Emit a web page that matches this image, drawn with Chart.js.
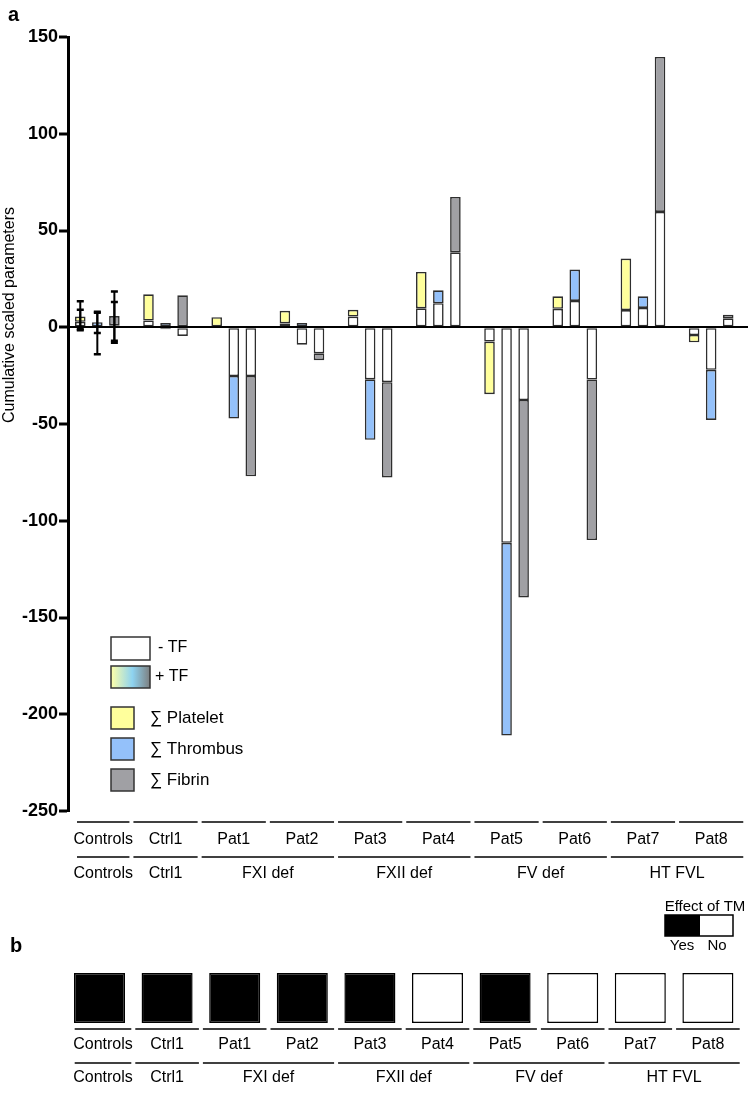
<!DOCTYPE html>
<html>
<head>
<meta charset="utf-8">
<script src="https://cdn.jsdelivr.net/npm/chart.js@4/dist/chart.umd.min.js"></script>
<style>
  html, body { margin: 0; padding: 0; background: #fff; }
  #wrap { position: relative; width: 751px; height: 1119px; }
  #chartA { position: absolute; left: 0; top: 0; }
  #chartB { position: absolute; left: 0; top: 890px; }
</style>
</head>
<body>
<div id="wrap">
  <canvas id="chartA" width="751" height="890"></canvas>
  <canvas id="chartB" width="751" height="229"></canvas>
</div>
<script>
// ---------------------------------------------------------
// Categories (x) and grouping rows
// ---------------------------------------------------------
const patients = ['Controls', 'Ctrl1', 'Pat1', 'Pat2', 'Pat3', 'Pat4', 'Pat5', 'Pat6', 'Pat7', 'Pat8'];
const groupLabels = ['Controls', 'Ctrl1', 'FXI def', 'FXII def', 'FV def', 'HT FVL'];
const groupSizes = [1, 1, 2, 2, 2, 2];

// Cumulative scaled parameters, without TF (white) and with TF (coloured)
const plateletNoTF = [2.8, 3.5, 0, 2, 5.5, 9.8, -7.4, 9.5, 8.9, -4];
const plateletTF   = [5.5, 17, 5.2, 8.5, 9, 28.6, -34.6, 16, 35.5, -7.8];
const thrombusNoTF = [0, -1, -25.2, -9, -26.9, 12.4, -111.4, 13.6, 10, -22];
const thrombusTF   = [2.6, 2.2, -47.2, 2.2, -58.2, 19.1, -211, 29.8, 16, -47.9];
const fibrinNoTF   = [1, -4.5, -25.2, -13.5, -28.4, 38.7, -37.6, -27, 59.6, 4.6];
const fibrinTF     = [5.8, 16.5, -77, -17, -77.6, 67.3, -139.6, -110, 139.7, 6.5];

// error bars of the Controls group [low, high], per parameter
const controlsErrTF   = [[-1, 13.5], [-3, 8], [-7, 18.5]];
const controlsErrNoTF = [[-1.5, 9], [-14, 7.5], [-8, 13]];

// y axis ticks
const yMin = -250, yMax = 150, yStep = 50;

// panel b: effect of TM
const effectOfTM = ['Yes', 'Yes', 'Yes', 'Yes', 'Yes', 'No', 'Yes', 'No', 'No', 'No'];

const COL_PLATELET = '#FFFF9C';
const COL_THROMBUS = '#94C1FA';
const COL_FIBRIN = '#A0A0A4';
const FONT = "'Liberation Sans', Arial, sans-serif";

Chart.defaults.font.family = FONT;
Chart.defaults.color = '#000';

// coloured part sits on top of the white part when both go the same way
function tfSegment(noTF, tf) {
    return tf.map((v, i) => {
        const w = noTF[i];
        if (w !== 0 && Math.sign(w) === Math.sign(v) && Math.abs(v) >= Math.abs(w)) return v - w;
        return v;
    });
}
const pts = arr => arr.map((v, i) => ({ x: i, y: v }));

function barSet(label, values, color, stack) {
    return {
        label, data: pts(values), stack,
        backgroundColor: color,
        borderColor: '#2e2e2e',
        borderWidth: 1.6,
        borderSkipped: false,
        barPercentage: 0.62,
        categoryPercentage: 0.75
    };
}

/**
 * two rows of labels under the bars
 */
const rowsPlugin = {
    id: 'rows',
    afterDraw(chart, args, opts) {
        const ctx = chart.ctx, x = chart.scales.x;
        const step = x.getPixelForValue(1) - x.getPixelForValue(0);
        const left = chart.chartArea.left + opts.inset;
        const hline = (a, b, y) => { ctx.beginPath(); ctx.moveTo(a, y); ctx.lineTo(b, y); ctx.stroke(); };
        ctx.save();
        ctx.strokeStyle = '#000';
        ctx.lineWidth = 1.5;
        ctx.fillStyle = '#000';
        ctx.font = '16px ' + FONT;
        ctx.textAlign = 'center';
        ctx.textBaseline = 'middle';
        patients.forEach((p, i) => {
            const c = x.getPixelForValue(i);
            const a = Math.max(c - step / 2 + 2, left), b = c + step / 2 - 2;
            hline(a, b, opts.line1);
            ctx.fillText(p, (a + b) / 2, opts.text1);
        });
        let start = 0;
        groupLabels.forEach((g, k) => {
            const n = groupSizes[k];
            const a = Math.max(x.getPixelForValue(start) - step / 2 + 2, left);
            const b = x.getPixelForValue(start + n - 1) + step / 2 - 2;
            hline(a, b, opts.line2);
            ctx.fillText(g, (a + b) / 2, opts.text2);
            start += n;
        });
        ctx.restore();
    }
};

/**
 * error bars on the Controls bars, legend, y title and panel letter
 */
const extrasA = {
    id: 'extrasA',
    afterDatasetsDraw(chart) {
        const ctx = chart.ctx, y = chart.scales.y;
        ctx.save();
        ctx.strokeStyle = '#000';
        [controlsErrNoTF, controlsErrTF].forEach(errs => {
            errs.forEach((e, k) => {
                const bx = chart.getDatasetMeta(k).data[0].x;
                const lo = y.getPixelForValue(e[0]), hi = y.getPixelForValue(e[1]);
                ctx.lineWidth = 2;
                ctx.beginPath(); ctx.moveTo(bx, lo); ctx.lineTo(bx, hi); ctx.stroke();
                ctx.lineWidth = 2.5;
                ctx.beginPath();
                ctx.moveTo(bx - 3.5, lo); ctx.lineTo(bx + 3.5, lo);
                ctx.moveTo(bx - 3.5, hi); ctx.lineTo(bx + 3.5, hi);
                ctx.stroke();
            });
        });
        ctx.restore();
    },
    afterDraw(chart) {
        const ctx = chart.ctx;
        ctx.save();
        // panel letter
        ctx.fillStyle = '#000';
        ctx.font = 'bold 20px ' + FONT;
        ctx.textBaseline = 'middle';
        ctx.fillText('a', 8, 15);

        // y axis title
        ctx.save();
        ctx.translate(10, 315);
        ctx.rotate(-Math.PI / 2);
        ctx.textAlign = 'center';
        ctx.font = '16px ' + FONT;
        ctx.fillText('Cumulative scaled parameters', 0, 0);
        ctx.restore();

        // legend
        ctx.strokeStyle = '#333';
        ctx.lineWidth = 1.5;
        ctx.fillStyle = '#fff';
        ctx.fillRect(111, 637, 39, 23);
        ctx.strokeRect(111, 637, 39, 23);
        const g = ctx.createLinearGradient(111, 0, 150, 0);
        g.addColorStop(0, '#FFFFA8');
        g.addColorStop(0.55, '#8ED3F0');
        g.addColorStop(1, '#7D7F80');
        ctx.fillStyle = g;
        ctx.fillRect(111, 666, 39, 22);
        ctx.strokeRect(111, 666, 39, 22);
        ctx.fillStyle = '#000';
        ctx.font = '16px ' + FONT;
        ctx.textAlign = 'left';
        ctx.fillText('- TF', 158, 648);
        ctx.fillText('+ TF', 155, 677);
        [['\u2211 Platelet', COL_PLATELET, 707], ['\u2211 Thrombus', COL_THROMBUS, 738], ['\u2211 Fibrin', COL_FIBRIN, 769]]
            .forEach(([t, c, top]) => {
                ctx.fillStyle = c;
                ctx.fillRect(111, top, 23, 22);
                ctx.strokeRect(111, top, 23, 22);
                ctx.fillStyle = '#000';
                ctx.font = '17px ' + FONT;
                ctx.fillText(t, 150, top + 11);
            });
        ctx.restore();
    }
};

new Chart(document.getElementById('chartA'), {
    type: 'bar',
    data: {
        datasets: [
            barSet('Platelet - TF', plateletNoTF, '#fff', 'P'),
            barSet('Thrombus - TF', thrombusNoTF, '#fff', 'T'),
            barSet('Fibrin - TF', fibrinNoTF, '#fff', 'F'),
            barSet('Platelet + TF', tfSegment(plateletNoTF, plateletTF), COL_PLATELET, 'P'),
            barSet('Thrombus + TF', tfSegment(thrombusNoTF, thrombusTF), COL_THROMBUS, 'T'),
            barSet('Fibrin + TF', tfSegment(fibrinNoTF, fibrinTF), COL_FIBRIN, 'F')
        ]
    },
    options: {
        responsive: false,
        animation: false,
        layout: { padding: { top: 37, right: 3, left: 0, bottom: 0 } },
        scales: {
            x: {
                type: 'linear',
                stacked: true,
                offset: false,
                min: -0.43,
                max: 9.54,
                ticks: { display: false },
                grid: { display: false },
                border: { display: false },
                afterFit: s => { s.height = 79; }
            },
            y: {
                stacked: true,
                min: yMin,
                max: yMax,
                ticks: { stepSize: yStep, padding: 1, font: { size: 18, weight: 'bold' }, color: '#000' },
                grid: {
                    color: c => (c.tick && c.tick.value === 0 ? '#000' : 'rgba(0,0,0,0)'),
                    lineWidth: 2,
                    tickColor: '#000',
                    tickWidth: 3,
                    tickLength: 9
                },
                border: { color: '#000', width: 3 },
                afterFit: s => { s.width = 68; }
            }
        },
        plugins: {
            legend: { display: false },
            tooltip: { enabled: false },
            rows: { inset: 9, line1: 822, text1: 840, line2: 857, text2: 874 }
        }
    },
    plugins: [rowsPlugin, extrasA]
});

// ---------------------------------------------------------
// panel b
// ---------------------------------------------------------
const extrasB = {
    id: 'extrasB',
    afterDraw(chart) {
        const ctx = chart.ctx;
        ctx.save();
        ctx.fillStyle = '#000';
        ctx.font = 'bold 20px ' + FONT;
        ctx.textBaseline = 'middle';
        ctx.fillText('b', 10, 56);
        ctx.font = '15px ' + FONT;
        ctx.textAlign = 'center';
        ctx.fillText('Effect of TM', 705, 17);
        ctx.fillRect(665, 25, 35, 21);
        ctx.strokeStyle = '#000';
        ctx.lineWidth = 1.5;
        ctx.strokeRect(665, 25, 68, 21);
        ctx.fillText('Yes', 682, 56);
        ctx.fillText('No', 717, 56);
        ctx.restore();
    }
};

new Chart(document.getElementById('chartB'), {
    type: 'bar',
    data: {
        labels: patients,
        datasets: [{
            label: 'Effect of TM',
            data: effectOfTM.map(() => 1),
            backgroundColor: effectOfTM.map(e => (e === 'Yes' ? '#000' : '#fff')),
            borderColor: '#000',
            borderWidth: 1.5,
            borderSkipped: false,
            barPercentage: 0.755,
            categoryPercentage: 1
        }]
    },
    options: {
        responsive: false,
        animation: false,
        layout: { padding: { top: 83, left: 65.7, right: 9.3, bottom: 0 } },
        scales: {
            x: {
                ticks: { display: false },
                grid: { display: false },
                border: { display: false },
                afterFit: s => { s.height = 96; }
            },
            y: { display: false, min: 0, max: 1 }
        },
        plugins: {
            legend: { display: false },
            tooltip: { enabled: false },
            rows: { inset: 9, line1: 139, text1: 155, line2: 173, text2: 188 }
        }
    },
    plugins: [rowsPlugin, extrasB]
});
</script>
</body>
</html>
